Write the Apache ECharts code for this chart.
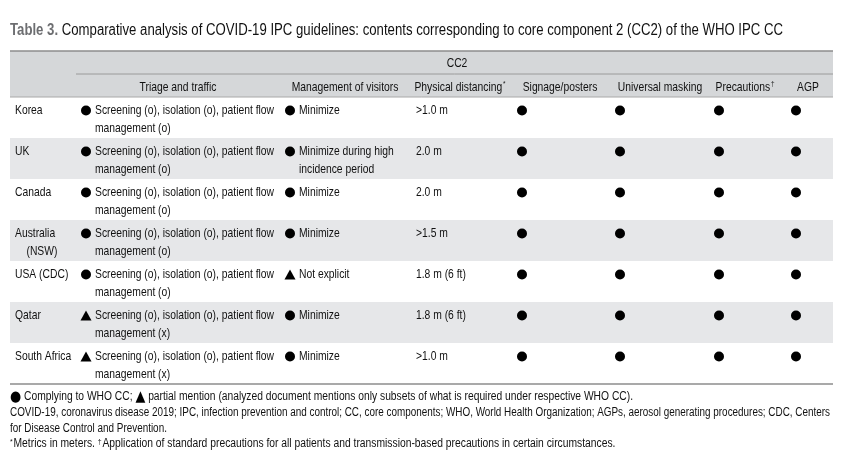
<!DOCTYPE html>
<html><head><meta charset="utf-8">
<script src="https://cdn.jsdelivr.net/npm/echarts@6/dist/echarts.min.js"></script>
<style>html,body{margin:0;padding:0;background:#fff}#c{width:843px;height:468px}</style>
</head><body><div id="c"></div>
<script>
// ---- data ----
const countries = ['Korea', 'UK', 'Canada', 'Australia\n    (NSW)', 'USA (CDC)', 'Qatar', 'South Africa'];
const triageMarks = ['circle', 'circle', 'circle', 'circle', 'circle', 'triangle', 'triangle'];
const triageTexts = [
  'Screening (o), isolation (o), patient flow\nmanagement (o)',
  'Screening (o), isolation (o), patient flow\nmanagement (o)',
  'Screening (o), isolation (o), patient flow\nmanagement (o)',
  'Screening (o), isolation (o), patient flow\nmanagement (o)',
  'Screening (o), isolation (o), patient flow\nmanagement (o)',
  'Screening (o), isolation (o), patient flow\nmanagement (x)',
  'Screening (o), isolation (o), patient flow\nmanagement (x)'
];
const visitorMarks = ['circle', 'circle', 'circle', 'circle', 'triangle', 'circle', 'circle'];
const visitorTexts = ['Minimize', 'Minimize during high\nincidence period', 'Minimize', 'Minimize', 'Not explicit', 'Minimize', 'Minimize'];
const distancing = ['>1.0 m', '2.0 m', '2.0 m', '>1.5 m', '1.8 m (6 ft)', '1.8 m (6 ft)', '>1.0 m'];
const signage = ['circle', 'circle', 'circle', 'circle', 'circle', 'circle', 'circle'];
const masking = ['circle', 'circle', 'circle', 'circle', 'circle', 'circle', 'circle'];
const precautions = ['circle', 'circle', 'circle', 'circle', 'circle', 'circle', 'circle'];
const agp = ['circle', 'circle', 'circle', 'circle', 'circle', 'circle', 'circle'];
const headerTop = 'CC2';
const headers = ['Triage and traffic', 'Management of visitors', 'Physical distancing', 'Signage/posters', 'Universal masking', 'Precautions', 'AGP'];
const titleBold = 'Table 3.';
const titleText = ' Comparative analysis of COVID-19 IPC guidelines: contents corresponding to core component 2 (CC2) of the WHO IPC CC';
const legendA = ' Complying to WHO CC; ';
const legendB = ' partial mention (analyzed document mentions only subsets of what is required under respective WHO CC).';
const notes = [
  'COVID-19, coronavirus disease 2019; IPC, infection prevention and control; CC, core components; WHO, World Health Organization; AGPs, aerosol generating procedures; CDC, Centers',
  'for Disease Control and Prevention.'
];
const note4a = 'Metrics in meters. ';
const note4b = 'Application of standard precautions for all patients and transmission-based precautions in certain circumstances.';

// ---- layout ----
const FF = '"Liberation Sans", Arial, sans-serif';
const TXT = '#111111';
const COL = {country: 5, tMark: 76, tText: 85, vMark: 280, vText: 289, dist: 406, sign: 512, mask: 610, prec: 709, agp: 786};
const BODY = '13px ' + FF;
const NOTE = '12px ' + FF;
const GLYPH = '15px "DejaVu Sans", sans-serif';
const TITLE = '16px ' + FF;
const TITLEB = 'bold 16px ' + FF;

const mctx = document.createElement('canvas').getContext('2d');
function tw(text, font) { mctx.font = font; return mctx.measureText(text).width; }
// condensed look: horizontal squeeze fitted to reference widths
const S = 179 / tw('Screening (o), isolation (o), patient flow', BODY);
const SN2 = 820 / tw(notes[0], NOTE);
const SN1 = 623 / (tw(legendA + legendB, NOTE) + tw('●▲', GLYPH));
const SN4 = 607 / tw('*' + note4a + '†' + note4b, NOTE);
const ST = 773 / (tw(titleBold, TITLEB) + tw(titleText, TITLE));

const chart = echarts.init(document.getElementById('c'), null, {renderer: 'canvas'});

const markData = [];
const markCols = [['tMark', triageMarks], ['vMark', visitorMarks], ['sign', signage], ['mask', masking], ['prec', precautions], ['agp', agp]];
markCols.forEach(([k, arr]) => {
  arr.forEach((s, i) => {
    if (s) markData.push({value: [COL[k], i], symbol: s, symbolSize: s === 'triangle' ? [11, 10] : 10});
  });
});

function renderRow(params, api) {
  const i = params.dataIndex;
  const p = api.coord([0, i]);
  const bandH = api.size([0, 1])[1];
  const top = p[1] - bandH / 2;
  const X = v => api.coord([v, i])[0];
  const right = api.coord([823, i])[0];
  const t = (x, s) => ({type: 'text', x: X(x), y: top + 4, scaleX: S, style: {x: 0, y: 0, text: s, font: BODY, fill: TXT, verticalAlign: 'top', lineHeight: 18}});
  const children = [];
  if (i % 2 === 1) children.push({type: 'rect', shape: {x: p[0], y: top, width: right - p[0], height: bandH}, style: {fill: '#e6e7e9'}});
  children.push(t(COL.country, countries[i]));
  children.push(t(COL.tText, triageTexts[i]));
  children.push(t(COL.vText, visitorTexts[i]));
  children.push(t(COL.dist, distancing[i]));
  return {type: 'group', children: children};
}

const graphics = [
  {type: 'text', x: 10, y: 31, scaleX: ST, style: {
    x: 0, y: 0, verticalAlign: 'middle',
    text: '{b|' + titleBold + '}{n|' + titleText + '}',
    rich: {b: {font: TITLEB, fill: '#6d6e71'}, n: {font: TITLE, fill: TXT}}
  }},
  {type: 'rect', shape: {x: 10, y: 51, width: 823, height: 46}, style: {fill: '#d5d7d9'}, z: -1},
  {type: 'line', shape: {x1: 10, y1: 51, x2: 833, y2: 51}, style: {stroke: '#8c8c8c', lineWidth: 1.5}},
  {type: 'line', shape: {x1: 76, y1: 74, x2: 833, y2: 74}, style: {stroke: '#9a9a9a', lineWidth: 1}},
  {type: 'line', shape: {x1: 10, y1: 97, x2: 833, y2: 97}, style: {stroke: '#a8a8a8', lineWidth: 1}},
  {type: 'line', shape: {x1: 10, y1: 384, x2: 833, y2: 384}, style: {stroke: '#8c8c8c', lineWidth: 1.5}},
  {type: 'text', x: 457, y: 63, scaleX: S, style: {x: 0, y: 0, text: headerTop, font: BODY, fill: TXT, align: 'center', verticalAlign: 'middle'}}
];
const hx = [178, 345, 460, 560, 660, 745, 808];
headers.forEach((h, k) => {
  const rich = {n: {font: BODY, fill: TXT}, s: {font: '8px ' + FF, fill: TXT, verticalAlign: 'top', padding: [0, 0, 6, 1]}};
  let text = '{n|' + h + '}';
  if (k === 2) text += '{s|*}';
  if (k === 5) text += '{s|†}';
  graphics.push({type: 'text', x: hx[k], y: 87, scaleX: S, style: {x: 0, y: 0, text: text, rich: rich, align: 'center', verticalAlign: 'middle'}});
});
graphics.push({type: 'text', x: 10, y: 397, scaleX: SN1, style: {x: 0, y: 0, verticalAlign: 'middle',
  text: '{g|●}{n|' + legendA + '}{g|▲}{n|' + legendB + '}',
  rich: {n: {font: NOTE, fill: TXT}, g: {font: GLYPH, fill: '#000'}}}});
const ny = [413, 429];
notes.forEach((n, k) => graphics.push({type: 'text', x: 10, y: ny[k], scaleX: SN2, style: {x: 0, y: 0, text: n, font: NOTE, fill: TXT, verticalAlign: 'middle'}}));
graphics.push({type: 'text', x: 10, y: 444, scaleX: SN4, style: {x: 0, y: 0, verticalAlign: 'middle',
  text: '{s|*}{n|' + note4a + '}{s|†}{n|' + note4b + '}',
  rich: {n: {font: NOTE, fill: TXT}, s: {font: '8px ' + FF, fill: TXT, verticalAlign: 'top', padding: [0, 1, 5, 0]}}}});

chart.setOption({
  animation: false,
  grid: {left: 10, top: 97, width: 823, height: 287},
  xAxis: {type: 'value', min: 0, max: 823, show: false},
  yAxis: {type: 'category', data: countries, inverse: true, show: false},
  graphic: graphics,
  series: [
    {type: 'custom', renderItem: renderRow, data: countries.map((c, i) => [0, i]), z: 1, silent: true},
    {type: 'scatter', data: markData, symbolOffset: [0, -7], itemStyle: {color: '#000', opacity: 1}, z: 3, silent: true}
  ]
});
</script></body></html>
